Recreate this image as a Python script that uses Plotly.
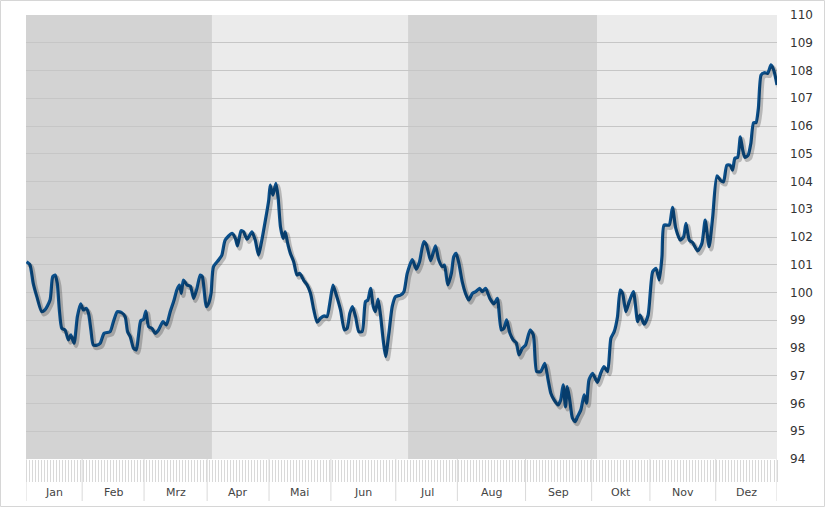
import plotly.graph_objects as go

# trading-day position (0..250) and index value
t = [0.2,1.3,2.4,3.6,5.2,6.3,8.0,8.9,9.7,10.4,11.1,11.9,13.0,14.1,14.9,16.0,17.1,18.2,19.1,20.0,20.8,21.6,22.4,23.8,24.7,26.0,28.0,29.1,30.4,31.9,33.0,33.8,34.7,35.8,36.7,37.4,38.2,39.1,39.9,40.8,41.9,43.0,44.1,45.6,46.7,48.0,49.3,50.2,51.1,51.7,52.4,53.6,54.7,55.8,56.9,58.0,58.7,59.4,60.0,60.8,
     61.6,62.4,64.1,65.2,66.3,68.6,69.7,70.4,71.6,72.4,73.6,75.2,76.3,77.4,78.3,79.7,80.8,81.3,82.2,83.2,83.9,84.7,85.6,86.3,87.1,88.0,89.1,90.2,91.1,92.4,93.6,94.7,95.8,96.9,98.0,99.3,100.2,101.3,102.2,103.3,104.7,106.0,106.9,107.8,108.7,109.7,110.8,111.9,113.0,113.8,114.7,115.6,116.3,117.2,118.0,118.9,119.7,120.8,121.9,123.0,
     124.7,125.8,126.9,128.6,129.9,131.0,132.4,133.3,134.7,136.3,137.4,138.6,139.3,140.4,141.6,142.4,143.2,144.1,145.2,146.3,147.4,148.6,149.7,151.0,151.9,153.0,154.4,155.8,156.9,158.2,159.1,160.0,161.1,162.2,163.2,164.1,165.2,166.3,167.8,168.9,170.0,171.3,172.7,173.8,174.7,175.8,177.1,178.0,178.8,179.6,180.2,181.0,181.9,182.8,183.6,184.7,185.8,186.6,187.4,188.6,190.2,191.3,192.4,193.6,194.7,195.8,196.9,
     197.8,198.6,199.7,200.8,202.2,203.6,204.4,205.8,207.1,208.6,209.7,210.8,211.7,212.4,214.1,215.2,216.3,217.8,218.9,219.7,220.8,221.9,223.6,225.0,226.1,227.4,228.6,230.0,231.3,232.2,233.3,234.4,235.2,236.0,236.9,237.8,238.6,239.3,240.4,241.3,242.2,243.0,243.8,244.7,245.8,246.9,248.0,248.9,250.0]
values = [101.11,101.0,100.33,99.85,99.31,99.37,99.73,100.57,100.63,100.33,99.37,98.71,98.65,98.29,98.47,98.17,99.13,99.59,99.37,99.43,99.25,98.65,98.11,98.11,98.17,98.53,98.59,98.95,99.31,99.27,99.13,98.59,98.41,97.99,97.93,98.41,98.98,99.03,99.33,98.77,98.71,98.53,98.65,98.95,98.83,99.31,99.73,100.09,100.27,99.97,100.45,100.27,100.23,99.79,100.15,100.63,100.57,99.97,99.49,99.61,
          99.97,100.93,101.17,101.35,101.89,102.13,101.95,101.68,102.23,102.19,101.92,102.19,101.89,101.35,101.77,102.61,103.33,103.87,103.51,103.93,103.45,102.37,101.95,102.19,101.77,101.41,101.11,100.63,100.69,100.45,100.27,99.97,99.37,98.93,99.07,99.16,99.13,99.73,100.27,99.91,99.37,98.65,98.71,99.25,99.49,99.13,98.59,98.59,99.67,99.73,100.15,99.49,99.31,99.76,99.19,98.29,97.69,98.53,99.49,99.85,
          99.91,100.03,100.69,101.19,100.84,101.11,101.83,101.71,101.15,101.68,101.17,100.93,100.99,100.27,100.69,101.29,101.41,101.05,100.39,99.97,99.73,99.97,100.03,100.15,100.03,100.15,99.79,99.59,99.79,98.65,98.71,99.01,98.53,98.29,98.19,97.75,97.99,98.11,98.65,98.47,97.15,97.15,97.45,96.85,96.37,96.13,95.95,96.13,96.67,95.88,96.61,96.13,95.47,95.35,95.53,95.77,96.31,96.01,96.85,97.09,96.76,97.09,97.33,97.15,98.35,98.59,99.13,
          100.09,99.97,99.31,99.67,100.03,98.95,99.19,98.86,99.19,100.75,100.87,100.45,101.29,102.43,102.43,103.07,102.31,101.89,102.01,102.49,101.89,101.80,101.50,101.77,102.61,101.65,102.73,104.20,104.03,103.99,104.59,104.59,104.41,104.84,104.87,105.61,105.13,104.87,104.95,105.38,106.12,106.12,106.64,107.84,107.92,107.90,108.20,108.02,107.48]

months = ["Jan", "Feb", "Mrz", "Apr", "Mai", "Jun", "Jul", "Aug", "Sep", "Okt", "Nov", "Dez"]
month_bounds = [0, 18.7, 39.3, 60.3, 80.9, 101.5, 123.1, 143.6, 166.3, 188.3, 207.7, 229.6, 250]
quarter_bounds = [0, 61.9, 127.2, 190.1, 250]
quarter_colors = ["#d3d3d3", "#ebebeb", "#d3d3d3", "#ebebeb"]
y_ticks = list(range(94, 111))
x_range = [0, 250]
y_range = [94, 110]

W, H = 825, 508
ml, mr, mt, mb = 26, 48, 15, 49
pw, ph = W - ml - mr, H - mt - mb
px_x = (x_range[1] - x_range[0]) / pw
px_y = (y_range[1] - y_range[0]) / ph

fig = go.Figure()
# drop shadow on shifted overlay axes
fig.add_trace(go.Scatter(x=t, y=values, mode="lines", xaxis="x2", yaxis="y2",
                         line=dict(color="rgba(0,0,0,0.22)", width=4.5, shape="spline", smoothing=0.6),
                         hoverinfo="skip", showlegend=False))
fig.add_trace(go.Scatter(x=t, y=values, mode="lines",
                         line=dict(color="#0a4f8b", width=3.2, shape="spline", smoothing=0.6),
                         showlegend=False))

shapes = []
for i in range(4):
    shapes.append(dict(type="rect", xref="x", yref="paper", x0=quarter_bounds[i], x1=quarter_bounds[i + 1],
                       y0=0, y1=1, fillcolor=quarter_colors[i], line=dict(width=0), layer="below"))
for b in month_bounds:
    shapes.append(dict(type="line", xref="x", yref="paper", x0=b, x1=b,
                       y0=-(501 - 459) / ph, y1=0, line=dict(color="#d9d9d9", width=1)))
# outer border
shapes.append(dict(type="rect", xref="paper", yref="paper",
                   x0=-(ml - 0.5) / pw, x1=(W - 0.5 - ml) / pw,
                   y0=-(506.5 - (H - mb)) / ph, y1=(H - mb - 0.5) / ph,
                   line=dict(color="#d6d6d6", width=1), fillcolor="rgba(0,0,0,0)", layer="below"))

annotations = []
for i, m in enumerate(months):
    annotations.append(dict(x=(month_bounds[i] + month_bounds[i + 1]) / 2, xref="x",
                            y=-(493 - 459) / ph, yref="paper", text=m, showarrow=False,
                            font=dict(family="DejaVu Sans", size=11, color="#444"),
                            xanchor="center", yanchor="middle"))

fig.update_layout(
    width=W, height=H, margin=dict(l=ml, r=mr, t=mt, b=mb, autoexpand=False),
    paper_bgcolor="white", plot_bgcolor="#ebebeb",
    shapes=shapes, annotations=annotations,
    xaxis=dict(range=x_range, showgrid=False, zeroline=False, showline=False, automargin=False,
               tickvals=list(range(0, 251)), ticks="outside", ticklen=22, tickwidth=1,
               tickcolor="#d9d9d9", showticklabels=False, fixedrange=True),
    yaxis=dict(range=y_range, side="right", tickvals=y_ticks, showgrid=True, gridcolor="#c6c6c6",
               gridwidth=1, zeroline=False, showline=False, ticks="", automargin=False,
               tickfont=dict(family="DejaVu Sans", size=12, color="#333"), ticklabelstandoff=12),
    xaxis2=dict(range=[x_range[0] - 2 * px_x, x_range[1] - 2 * px_x], overlaying="x", visible=False),
    yaxis2=dict(range=[y_range[0] + 2.5 * px_y, y_range[1] + 2.5 * px_y], overlaying="y", visible=False),
)

fig.write_html("out.html", config={"displayModeBar": False},
               post_script="document.body.style.margin='0';document.body.style.overflow='hidden';")
